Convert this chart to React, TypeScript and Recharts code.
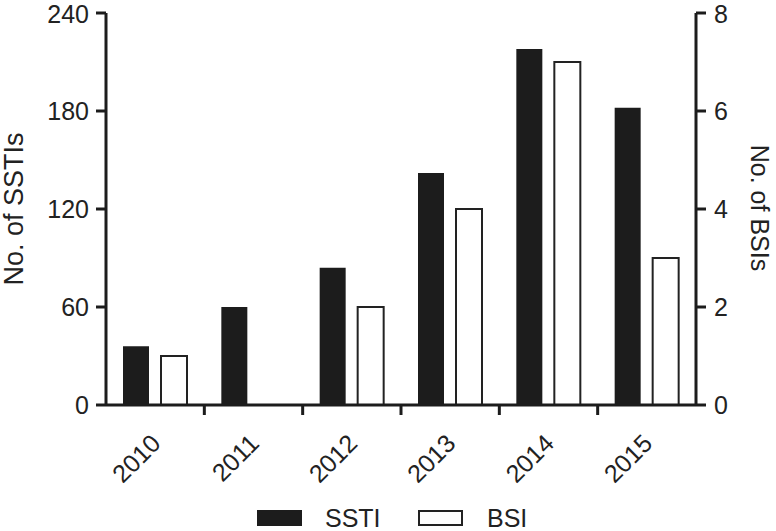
import React from 'react';
import { ComposedChart, Bar, XAxis, YAxis } from 'recharts';

const years = ['2010', '2011', '2012', '2013', '2014', '2015'];
const sstiCounts = [36, 60, 84, 142, 218, 182];
const bsiCounts = [1, 0, 2, 4, 7, 3];
const sstiTicks = [0, 60, 120, 180, 240];
const bsiTicks = [0, 2, 4, 6, 8];

const data = years.map((year, i) => ({ year, ssti: sstiCounts[i], bsi: bsiCounts[i] }));

const INK = '#1c1c1c';
const FONT = '"Liberation Sans", Arial, sans-serif';

// year label rotated, plus a small tick mark on the left boundary of each category (except the first)
const YearTick = (props: any) => {
  const { x, y, payload, index } = props;
  const half = payload && payload.offset ? payload.offset : 49;
  const px = x + 7;
  const py = y + 40;
  return (
    <g>
      {index > 0 && <line x1={x - half} x2={x - half} y1={y} y2={y + 10} stroke={INK} strokeWidth={3} />}
      <text x={px} y={py} transform={`rotate(-45, ${px}, ${py})`} textAnchor="end" fontSize={25} fill="#222" fontFamily={FONT}>
        {payload.value}
      </text>
    </g>
  );
};

export default function App() {
  return (
    <div style={{ position: 'absolute', left: 0, top: 0, width: 776, height: 531, background: '#fff' }}>
      <ComposedChart
        width={776}
        height={531}
        data={data}
        margin={{ top: 13, right: 0, left: 0, bottom: 0 }}
        barSize={26}
        barGap={12}
      >
        <XAxis
          dataKey="year"
          height={126}
          tickSize={0}
          tickMargin={0}
          tickLine={false}
          axisLine={{ stroke: INK, strokeWidth: 3 }}
          tick={<YearTick />}
          interval={0}
        />
        <YAxis
          yAxisId="left"
          width={106}
          domain={[0, 240]}
          ticks={sstiTicks}
          tickSize={10}
          tickMargin={7}
          axisLine={{ stroke: INK, strokeWidth: 3 }}
          tickLine={{ stroke: INK, strokeWidth: 3 }}
          tick={{ fontSize: 25, fill: '#222', fontFamily: FONT }}
          label={{
            content: () => (
              <text x={23} y={209} transform="rotate(-90, 23, 209)" textAnchor="middle" fontSize={27} fill="#222" fontFamily={FONT}>
                No. of SSTIs
              </text>
            ),
          }}
        />
        <YAxis
          yAxisId="right"
          orientation="right"
          width={80}
          domain={[0, 8]}
          ticks={bsiTicks}
          tickSize={10}
          tickMargin={8}
          axisLine={{ stroke: INK, strokeWidth: 3 }}
          tickLine={{ stroke: INK, strokeWidth: 3 }}
          tick={{ fontSize: 25, fill: '#222', fontFamily: FONT }}
          label={{
            content: () => (
              <text x={751} y={208} transform="rotate(90, 751, 208)" textAnchor="middle" fontSize={25} fill="#222" fontFamily={FONT}>
                No. of BSIs
              </text>
            ),
          }}
        />
        <Bar yAxisId="left" dataKey="ssti" name="SSTI" fill={INK} isAnimationActive={false} />
        <Bar yAxisId="right" dataKey="bsi" name="BSI" fill="#fff" stroke="#222" strokeWidth={2} isAnimationActive={false} />
      </ComposedChart>
      <svg width={776} height={531} style={{ position: 'absolute', left: 0, top: 0, pointerEvents: 'none' }}>
        <rect x={257} y={510} width={45} height={16} fill={INK} />
        <text x={325} y={527} fontSize={25} fill="#222" fontFamily={FONT}>SSTI</text>
        <rect x={419} y={511} width={43} height={14} fill="#fff" stroke="#222" strokeWidth={2} />
        <text x={487} y={527} fontSize={25} fill="#222" fontFamily={FONT}>BSI</text>
      </svg>
    </div>
  );
}
